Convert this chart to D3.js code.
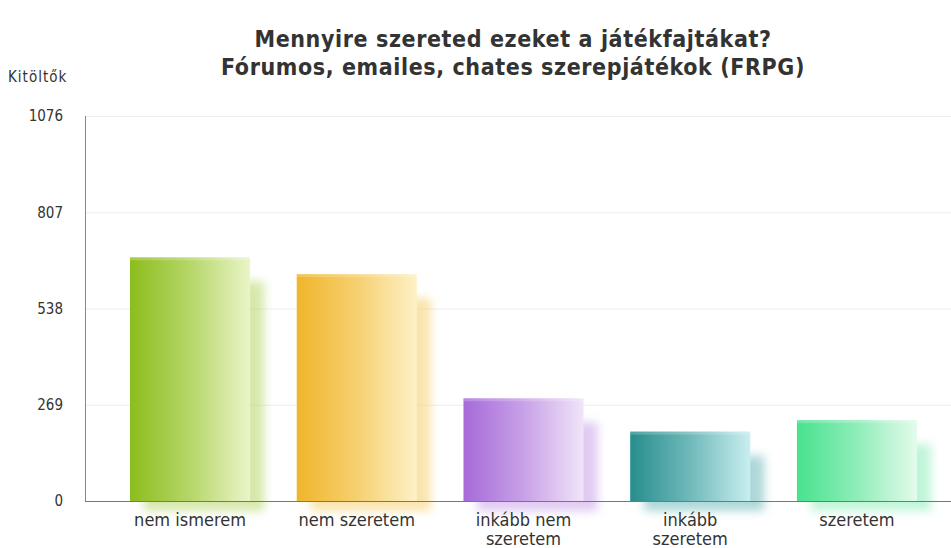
<!DOCTYPE html>
<html><head><meta charset="utf-8">
<script src="https://cdn.jsdelivr.net/npm/d3@7"></script>
<style>body{margin:0;background:#fff}svg{display:block}</style>
</head><body>
<svg id="c" width="951" height="548"></svg>
<script>
const categories = [["nem ismerem"],["nem szeretem"],["inkább nem","szeretem"],["inkább","szeretem"],["szeretem"]];
const values = [681, 634, 287, 194, 226];
const tickValues = [0, 269, 538, 807, 1076];
const colorsDark = ["#8cbd1c","#f0b52a","#a66ad9","#278d8d","#48e28e"];
const colorsLight = ["#eaf5c8","#fdf1c6","#f1e4f9","#c9eef0","#e4fbec"];
const titleLines = ["Mennyire szereted ezeket a játékfajtákat?","Fórumos, emailes, chates szerepjátékok (FRPG)"];
const yTitle = "Kitöltők";

const svg = d3.select("#c");
const font = "'DejaVu Sans Condensed', 'DejaVu Sans', sans-serif";
const x = d3.scaleBand().domain(d3.range(values.length)).range([85, 962]).paddingInner(0.28).paddingOuter(0.27);
const y = d3.scaleLinear().domain([0, 1076]).range([501, 116]);

const defs = svg.append("defs");
const blur = defs.append("filter").attr("id","blur").attr("x","-50%").attr("y","-50%").attr("width","200%").attr("height","200%");
blur.append("feGaussianBlur").attr("stdDeviation", 5);
values.forEach((v,i)=>{
  const g = defs.append("linearGradient").attr("id","g"+i).attr("x1","0").attr("x2","1").attr("y1","0").attr("y2","0");
  g.append("stop").attr("offset","0").attr("stop-color",colorsDark[i]);
  g.append("stop").attr("offset","0.5").attr("stop-color",d3.interpolateRgb(colorsDark[i],colorsLight[i])(0.45));
  g.append("stop").attr("offset","1").attr("stop-color",colorsLight[i]);
});

// gridlines
svg.append("g").selectAll("line").data(tickValues.slice(1)).join("line")
  .attr("x1",85).attr("x2",951).attr("y1",d=>y(d)+0.5).attr("y2",d=>y(d)+0.5)
  .attr("stroke","#ededed").attr("stroke-width",1);

// shadows
svg.append("g").selectAll("rect").data(values).join("rect")
  .attr("x",(d,i)=>x(i)+14).attr("width",x.bandwidth())
  .attr("y",d=>y(d)+24).attr("height",d=>y(0)-y(d)-14)
  .attr("fill",(d,i)=>d3.interpolateRgb(colorsDark[i],colorsLight[i])(0.5))
  .attr("opacity",0.6).attr("filter","url(#blur)");

// bars
svg.append("g").selectAll("rect").data(values).join("rect")
  .attr("x",(d,i)=>x(i)).attr("width",x.bandwidth())
  .attr("y",d=>y(d)).attr("height",d=>y(0)-y(d))
  .attr("fill",(d,i)=>`url(#g${i})`);
svg.append("g").selectAll("rect").data(values).join("rect")
  .attr("x",(d,i)=>x(i)).attr("width",x.bandwidth())
  .attr("y",d=>y(d)).attr("height",3)
  .attr("fill","#fff").attr("opacity",0.2);

// axes
svg.append("line").attr("x1",85.5).attr("x2",85.5).attr("y1",116).attr("y2",501).attr("stroke","#888");
svg.append("line").attr("x1",85).attr("x2",951).attr("y1",501.5).attr("y2",501.5).attr("stroke","#777");

const yAxis = d3.axisLeft(y).tickValues(tickValues).tickFormat(d3.format("d")).tickSize(0).tickPadding(0);
const ya = svg.append("g").attr("transform","translate(63,0)").call(yAxis);
ya.select(".domain").remove();
ya.selectAll("text").attr("font-family",font).attr("font-size",15).attr("fill","#333");

// category labels
const cl = svg.append("g").selectAll("text").data(categories).join("text")
  .attr("x",(d,i)=>x(i)+x.bandwidth()/2).attr("y",526)
  .attr("text-anchor","middle").attr("font-family",font).attr("font-size",18).attr("fill","#333");
cl.selectAll("tspan").data(d=>d).join("tspan")
  .attr("x",function(){return this.parentNode.getAttribute("x");})
  .attr("dy",(d,j)=>j?19:0).text(d=>d);

// titles
svg.append("g").selectAll("text").data(titleLines).join("text")
  .attr("x",513).attr("y",(d,i)=>47+i*28).attr("text-anchor","middle")
  .attr("font-family",font).attr("font-weight","bold").attr("font-size",23).attr("letter-spacing",0.6).attr("fill","#333")
  .text(d=>d);
svg.append("text").attr("x",8).attr("y",82).attr("font-family",font).attr("font-size",15).attr("letter-spacing",1).attr("fill","#333").text(yTitle);
</script>
</body></html>
